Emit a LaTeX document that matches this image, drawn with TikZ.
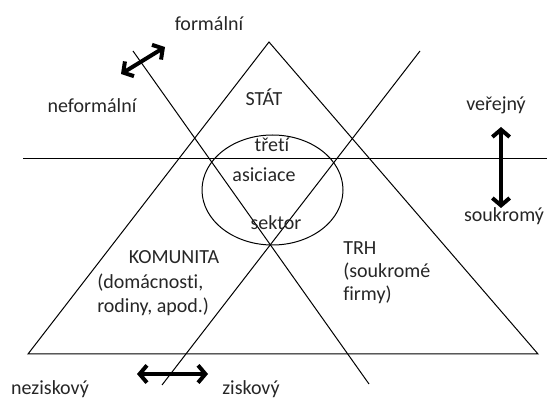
\documentclass[tikz,border=0pt]{standalone}
\usepackage{fontspec}
\setmainfont[RawFeature={-liga}]{Carlito}
\usetikzlibrary{arrows.meta}
\begin{document}
\begin{tikzpicture}[x=0.75pt,y=-0.75pt,
  thin line/.style={line width=0.75pt},
  big arrow/.style={line width=3pt,{Straight Barb[length=5.5pt,width=13pt]}-{Straight Barb[length=5.5pt,width=13pt]}},
  lbl/.style={font=\fontsize{15pt}{17.5pt}\selectfont, text=black!85, inner sep=0pt},
  lblleft/.style={lbl, align=left, anchor=north west}]
\useasboundingbox (0,0) rectangle (547,399);
% triangle
\coordinate (apex) at (269,42);
\coordinate (bl) at (28,354);
\coordinate (br) at (538,354);
\draw[thin line] (bl) -- (apex) -- (br) -- cycle;
% horizontal line
\coordinate (hl) at (23,159);
\coordinate (hr) at (547,159);
\draw[thin line] (hl) -- (hr);
% crossing lines
\coordinate (d1a) at (133,51);
\coordinate (d1b) at (369,384);
\coordinate (d2a) at (162,385);
\coordinate (d2b) at (420,51);
\draw[thin line] (d1a) -- (d1b);
\draw[thin line] (d2a) -- (d2b);
% ellipse
\draw[thin line] (272.5,190) ellipse [x radius=70.5, y radius=55];
% arrows
\coordinate (fa) at (121,74);
\coordinate (fb) at (165,47);
\draw[big arrow] (fa) -- (fb);
\coordinate (va) at (501,127);
\coordinate (vb) at (501,208);
\draw[big arrow] (va) -- (vb);
\coordinate (ha) at (137,374);
\coordinate (hb) at (208,374);
\draw[big arrow] (ha) -- (hb);
% labels
\node[lbl] (formalni) at (209,24) {formální};
\node[lbl] (neformalni) at (92,106) {neformální};
\node[lbl] (stat) at (264,97) {STÁT};
\node[lbl] (verejny) at (496,105) {veřejný};
\node[lbl] (soukromy) at (504,216) {soukromý};
\node[lbl] (treti) at (272,145) {třetí};
\node[lbl] (asiciace) at (264,175) {asiciace};
\node[lbl] (sektor) at (276,223) {sektor};
\node[lbl] (komunita) at (174,257) {KOMUNITA};
\node[lblleft] (domacnosti) at (97,274) {(domácnosti,\\rodiny, apod.)};
\node[lblleft] (trh) at (343,241) {TRH\\(soukromé\\firmy)};
\node[lbl] (neziskovy) at (50,389) {neziskový};
\node[lbl] (ziskovy) at (251,389) {ziskový};
\end{tikzpicture}
\end{document}
